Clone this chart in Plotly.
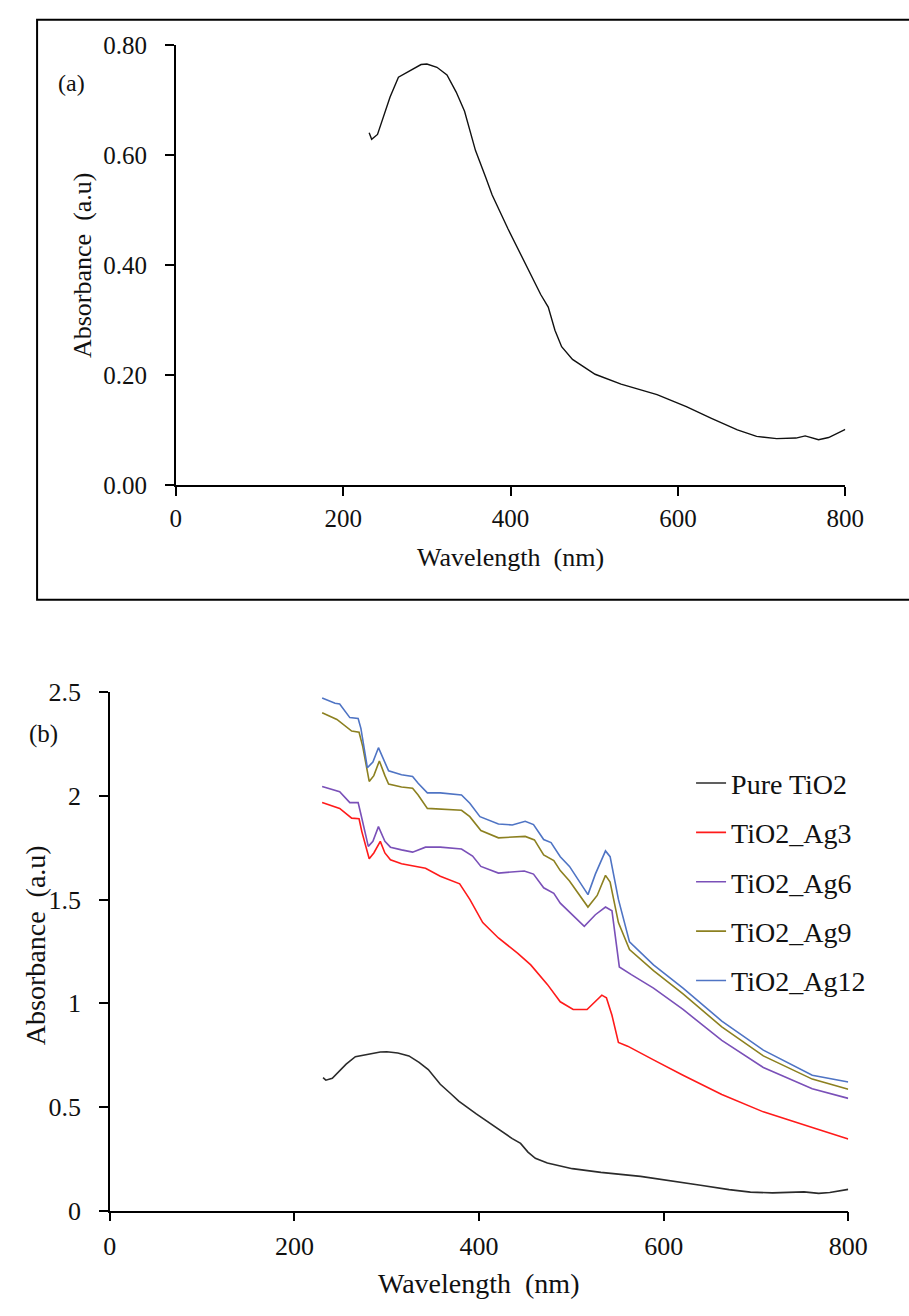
import plotly.graph_objects as go

W, H = 909, 1316
FONT = "Times New Roman, Liberation Serif, DejaVu Serif, serif"

# ---------------- data ----------------
pure_nm = [231, 234, 241, 246, 256, 266, 281, 293, 300, 312, 324, 335, 345, 358, 370, 378,
           397, 416, 436, 445, 453, 461, 474, 501, 532, 575, 610, 640, 671, 694, 718, 741,
           752, 768, 780, 800]
pure_abs = [0.641, 0.629, 0.638, 0.662, 0.706, 0.742, 0.754, 0.765, 0.766, 0.760, 0.746, 0.715,
            0.680, 0.609, 0.561, 0.528, 0.466, 0.407, 0.347, 0.324, 0.282, 0.252, 0.229, 0.202,
            0.184, 0.165, 0.143, 0.122, 0.101, 0.089, 0.085, 0.086, 0.090, 0.083, 0.087, 0.102]

ag3_nm = [230, 242, 249, 262, 270, 273, 281, 286, 293, 298, 304, 316, 330, 342, 358, 379, 390,
          404, 421, 442, 456, 474, 488, 502, 517, 526, 533, 538, 544, 551, 561, 589, 621, 663,
          708, 761, 800]
ag3_abs = [1.968, 1.949, 1.940, 1.893, 1.890, 1.828, 1.697, 1.725, 1.781, 1.725, 1.692, 1.673,
           1.660, 1.651, 1.613, 1.576, 1.501, 1.389, 1.315, 1.241, 1.185, 1.091, 1.007, 0.970,
           0.970, 1.007, 1.039, 1.026, 0.942, 0.811, 0.793, 0.727, 0.653, 0.560, 0.476, 0.401,
           0.345]

ag6_nm = [230, 242, 249, 260, 269, 272, 280, 285, 291, 298, 304, 316, 328, 342, 358, 381, 393,
          402, 421, 449, 459, 470, 481, 488, 498, 514, 526, 537, 544, 552, 565, 589, 621, 663,
          708, 761, 800]
ag6_abs = [2.046, 2.028, 2.020, 1.968, 1.968, 1.912, 1.757, 1.781, 1.852, 1.781, 1.753, 1.740,
           1.729, 1.753, 1.753, 1.744, 1.710, 1.660, 1.628, 1.638, 1.623, 1.557, 1.530, 1.483,
           1.440, 1.371, 1.427, 1.464, 1.446, 1.175, 1.138, 1.073, 0.970, 0.821, 0.690, 0.588,
           0.541]

ag9_nm = [230, 246, 262, 270, 274, 281, 286, 292, 298, 302, 316, 328, 334, 344, 381, 390, 402,
          421, 450, 460, 470, 481, 488, 498, 518, 528, 537, 542, 551, 563, 589, 621, 663, 708,
          761, 800]
ag9_abs = [2.401, 2.369, 2.313, 2.307, 2.238, 2.070, 2.098, 2.169, 2.098, 2.057, 2.043, 2.037,
           2.005, 1.940, 1.931, 1.900, 1.833, 1.798, 1.805, 1.788, 1.716, 1.688, 1.640, 1.590,
           1.464, 1.520, 1.617, 1.585, 1.389, 1.259, 1.157, 1.045, 0.886, 0.746, 0.634, 0.585]

ag12_nm = [230, 244, 249, 260, 269, 272, 279, 285, 291, 297, 302, 316, 328, 334, 344, 358, 381,
           390, 401, 421, 436, 450, 459, 470, 478, 488, 498, 518, 526, 537, 542, 551, 563, 589,
           621, 663, 708, 761, 800]
ag12_abs = [2.472, 2.447, 2.444, 2.378, 2.374, 2.326, 2.136, 2.164, 2.233, 2.173, 2.121, 2.102,
            2.094, 2.061, 2.015, 2.015, 2.005, 1.965, 1.900, 1.865, 1.860, 1.878, 1.862, 1.790,
            1.775, 1.707, 1.660, 1.524, 1.623, 1.735, 1.707, 1.501, 1.296, 1.185, 1.073, 0.914,
            0.774, 0.653, 0.620]

series_names = ["Pure TiO2", "TiO2_Ag3", "TiO2_Ag6", "TiO2_Ag9", "TiO2_Ag12"]
series_colors = ["#2b2b2b", "#ff1a1a", "#7a50b8", "#8c8020", "#4f74c4"]

x_ticks = [0, 200, 400, 600, 800]
ya_ticks = [0.0, 0.2, 0.4, 0.6, 0.8]
yb_ticks = [0, 0.5, 1, 1.5, 2, 2.5]
yb_ticktext = ["0", "0.5", "1", "1.5", "2", "2.5"]


def px_x(p):
    return p / W


def px_y(p):
    return 1 - p / H


fig = go.Figure()

# panel (a)
fig.add_trace(go.Scatter(x=pure_nm, y=pure_abs, mode="lines", xaxis="x", yaxis="y",
                         line=dict(color="#111111", width=1.4), showlegend=False))

# panel (b)
all_x = [pure_nm, ag3_nm, ag6_nm, ag9_nm, ag12_nm]
all_y = [pure_abs, ag3_abs, ag6_abs, ag9_abs, ag12_abs]
for i, (nm, ab) in enumerate(zip(all_x, all_y)):
    fig.add_trace(go.Scatter(x=nm, y=ab, mode="lines", xaxis="x2", yaxis="y2",
                             name=series_names[i], legendgroup=series_names[i],
                             line=dict(color=series_colors[i], width=1.6)))


def axis_style(size):
    return dict(showline=True, linecolor="black", linewidth=1.5, ticks="outside",
                ticklen=9, tickwidth=1.5, tickcolor="black", showgrid=False,
                zeroline=False, tickfont=dict(family=FONT, size=size, color="#111111"))


fig.update_layout(
    width=W, height=H,
    margin=dict(l=0, r=0, t=0, b=0),
    paper_bgcolor="white", plot_bgcolor="white",
    font=dict(family=FONT, color="#111111"),
    xaxis=dict(domain=[px_x(174), px_x(864)], range=[0, 800], tickvals=x_ticks,
               anchor="y", ticklabelstandoff=1, **axis_style(25)),
    yaxis=dict(domain=[px_y(482), px_y(32)], range=[0, 0.8], tickvals=ya_ticks,
               tickformat=".2f", anchor="x", ticklabelstandoff=13, **axis_style(25)),
    xaxis2=dict(domain=[px_x(106), px_x(867)], range=[0, 800], tickvals=x_ticks,
                anchor="y2", ticklabelstandoff=3, **axis_style(26)),
    yaxis2=dict(domain=[px_y(1223.5), px_y(693.6)], range=[0, 2.5], tickvals=yb_ticks,
                ticktext=yb_ticktext, anchor="x2", ticklabelstandoff=13, **axis_style(26)),
    legend=dict(x=px_x(705), y=px_y(761), xanchor="left", yanchor="top",
                bgcolor="rgba(0,0,0,0)", borderwidth=0, tracegroupgap=10,
                font=dict(family=FONT, size=28, color="#111111")),
    showlegend=True,
)

annotations = [
    dict(text="(a)", x=px_x(66), y=px_y(71), size=24),
    dict(text="(b)", x=px_x(38), y=px_y(736), size=25),
    dict(text="Wavelength  (nm)", x=px_x(519), y=px_y(556), size=26),
    dict(text="Absorbance  (a.u)", x=px_x(78), y=px_y(257), size=26, textangle=-90),
    dict(text="Wavelength  (nm)", x=px_x(486), y=px_y(1298), size=28),
    dict(text="Absorbance  (a.u)", x=px_x(29), y=px_y(952), size=28, textangle=-90),
]
ann_list = []
for a in annotations:
    size = a.pop("size")
    a.update(xref="paper", yref="paper", xanchor="center", yanchor="middle",
             showarrow=False, font=dict(family=FONT, size=size, color="#111111"))
    ann_list.append(a)
fig.update_layout(annotations=ann_list)

# frame around panel (a)
fig.add_shape(type="rect", xref="paper", yref="paper",
              x0=px_x(31), x1=1.05, y0=px_y(599), y1=px_y(6),
              line=dict(color="black", width=2))

fig.write_html("out.html")
